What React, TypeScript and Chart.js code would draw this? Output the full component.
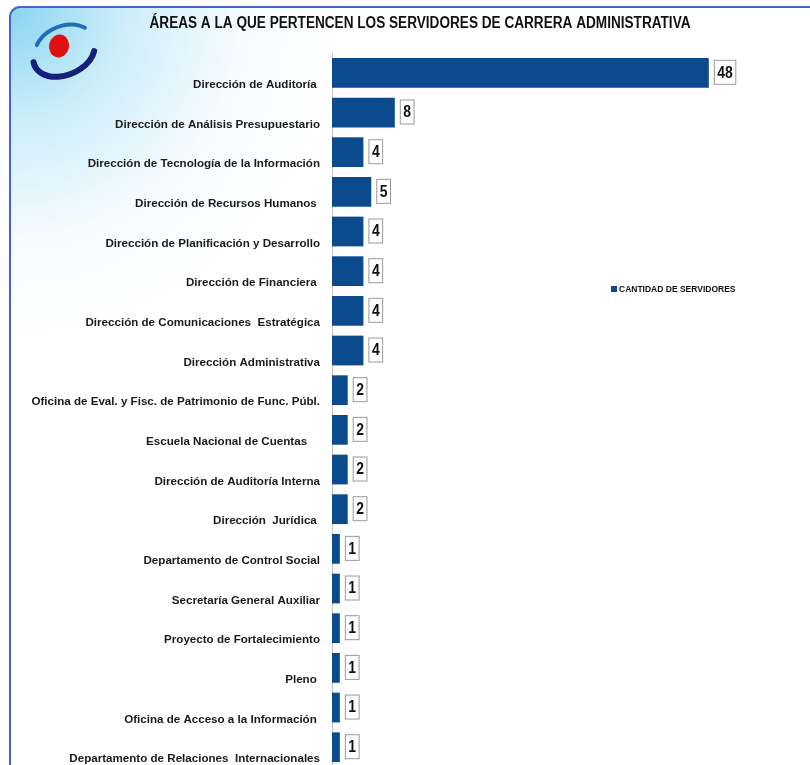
import React, { useEffect, useRef } from "react";
import { Chart, registerables } from "chart.js";

Chart.register(...registerables);

const TITLE = "ÁREAS A LA QUE PERTENCEN LOS SERVIDORES DE CARRERA ADMINISTRATIVA";
const SERIES_NAME = "CANTIDAD DE SERVIDORES";

const categories = [
  "Dirección de Auditoría ",
  "Dirección de Análisis Presupuestario",
  "Dirección de Tecnología de la Información",
  "Dirección de Recursos Humanos ",
  "Dirección de Planificación y Desarrollo",
  "Dirección de Financiera ",
  "Dirección de Comunicaciones  Estratégica",
  "Dirección Administrativa",
  "Oficina de Eval. y Fisc. de Patrimonio de Func. Públ.",
  "Escuela Nacional de Cuentas    ",
  "Dirección de Auditoría Interna",
  "Dirección  Jurídica ",
  "Departamento de Control Social",
  "Secretaría General Auxiliar",
  "Proyecto de Fortalecimiento",
  "Pleno ",
  "Oficina de Acceso a la Información ",
  "Departamento de Relaciones  Internacionales",
];

const servidores = [48, 8, 4, 5, 4, 4, 4, 4, 2, 2, 2, 2, 1, 1, 1, 1, 1, 1];

const BAR_COLOR = "#0b4a8c";
const LABEL_FONT = "'Liberation Sans', Arial, sans-serif";

const backgroundPlugin = {
  id: "panelBackground",
  beforeDraw(chart: any) {
    const ctx = chart.ctx;
    const W = chart.width;
    const H = chart.height;
    ctx.save();
    ctx.fillStyle = "#ffffff";
    ctx.fillRect(0, 0, W, H);
    // right-bottom glow outside the panel
    const g2 = ctx.createLinearGradient(0, 690, 0, 765);
    g2.addColorStop(0, "rgba(120,170,230,0)");
    g2.addColorStop(1, "rgba(80,140,220,0.9)");
    ctx.fillStyle = g2;
    ctx.fillRect(803, 690, 7, 75);
    // panel
    const x = 10, y = 7, w = W + 10, h = H + 10, r = 10;
    ctx.beginPath();
    ctx.moveTo(x + r, y);
    ctx.lineTo(x + w - r, y);
    ctx.arcTo(x + w, y, x + w, y + r, r);
    ctx.lineTo(x + w, y + h - r);
    ctx.arcTo(x + w, y + h, x + w - r, y + h, r);
    ctx.lineTo(x + r, y + h);
    ctx.arcTo(x, y + h, x, y + h - r, r);
    ctx.lineTo(x, y + r);
    ctx.arcTo(x, y, x + r, y, r);
    ctx.closePath();
    const g = ctx.createRadialGradient(10, 7, 0, 10, 7, 330);
    g.addColorStop(0, "#8ad4f1");
    g.addColorStop(0.35, "#cdeefa");
    g.addColorStop(0.7, "#f5fbfe");
    g.addColorStop(1, "#ffffff");
    ctx.fillStyle = g;
    ctx.fill();
    ctx.lineWidth = 2;
    ctx.strokeStyle = "#4763cf";
    ctx.stroke();

    // logo
    ctx.lineCap = "round";
    ctx.beginPath();
    ctx.ellipse(64, 53, 32, 22, -0.4, 0.15 * Math.PI, 1.05 * Math.PI);
    ctx.lineWidth = 6;
    ctx.strokeStyle = "#14207a";
    ctx.stroke();
    ctx.beginPath();
    ctx.ellipse(64, 47, 30, 21, -0.4, 1.2 * Math.PI, 1.85 * Math.PI);
    ctx.lineWidth = 4;
    ctx.strokeStyle = "#1f6fb5";
    ctx.stroke();
    ctx.beginPath();
    ctx.ellipse(59, 46, 10, 11.5, 0.2, 0, 2 * Math.PI);
    ctx.fillStyle = "#e01010";
    ctx.fill();

    // title (horizontally condensed)
    ctx.fillStyle = "#111111";
    ctx.font = "bold 16px " + LABEL_FONT;
    ctx.textAlign = "center";
    ctx.textBaseline = "middle";
    ctx.translate(420, 24);
    ctx.scale(0.85, 1);
    ctx.fillText(TITLE, 0, 0);
    ctx.restore();
  },
};

const overlayPlugin = {
  id: "overlayLabels",
  afterDatasetsDraw(chart: any) {
    const ctx = chart.ctx;
    const meta = chart.getDatasetMeta(0);
    const data = chart.data.datasets[0].data as number[];
    const sx = 0.82;
    ctx.save();
    ctx.font = "bold 17px " + LABEL_FONT;
    ctx.textBaseline = "middle";
    ctx.textAlign = "center";
    meta.data.forEach((bar: any, i: number) => {
      const txt = String(data[i]);
      const tw = ctx.measureText(txt).width * sx;
      const bw = tw + 6;
      const bx = bar.x + 5;
      const by = bar.y - 13;
      ctx.fillStyle = "#ffffff";
      ctx.fillRect(bx, by, bw, 24);
      ctx.strokeStyle = "#9a9a9a";
      ctx.lineWidth = 1;
      ctx.strokeRect(bx + 0.5, by + 0.5, bw, 24);
      ctx.fillStyle = "#111111";
      ctx.save();
      ctx.translate(bx + bw / 2 + 0.5, by + 13);
      ctx.scale(sx, 1);
      ctx.fillText(txt, 0, 0);
      ctx.restore();
    });
    // legend
    ctx.fillStyle = BAR_COLOR;
    ctx.fillRect(611, 286, 6, 6);
    ctx.fillStyle = "#111111";
    ctx.font = "bold 8.5px 'Liberation Sans', Arial, sans-serif";
    ctx.textAlign = "left";
    ctx.fillText(SERIES_NAME, 619, 289.5);
    ctx.restore();
  },
};

export default function App() {
  const ref = useRef<HTMLCanvasElement>(null);
  useEffect(() => {
    if (!ref.current) return;
    const chart = new Chart(ref.current, {
      type: "bar",
      data: {
        labels: categories,
        datasets: [
          {
            label: SERIES_NAME,
            data: servidores,
            backgroundColor: BAR_COLOR,
            borderWidth: 0,
            barPercentage: 0.75,
            categoryPercentage: 1,
          },
        ],
      },
      options: {
        indexAxis: "y",
        responsive: false,
        animation: false,
        layout: { padding: { top: 53, left: 8, right: 7, bottom: 0 } },
        plugins: {
          legend: { display: false },
          title: { display: false },
          tooltip: { enabled: false },
        },
        scales: {
          x: { display: false, min: 0, max: 60 },
          y: {
            afterFit(scale: any) {
              scale.width = 324;
            },
            grid: { display: false, drawTicks: false },
            border: { display: true, color: "#c4c4c4", width: 1 },
            ticks: {
              color: "#1a1a1a",
              padding: 12,
              labelOffset: 12,
              font: { family: LABEL_FONT, size: 11.6, weight: "bold" },
            },
          },
        },
      },
      plugins: [backgroundPlugin, overlayPlugin],
    });
    return () => chart.destroy();
  }, []);
  return (
    <div style={{ position: "absolute", left: 0, top: 0, width: 810, height: 765, overflow: "hidden" }}>
      <canvas ref={ref} width={810} height={786} style={{ display: "block" }} />
    </div>
  );
}
